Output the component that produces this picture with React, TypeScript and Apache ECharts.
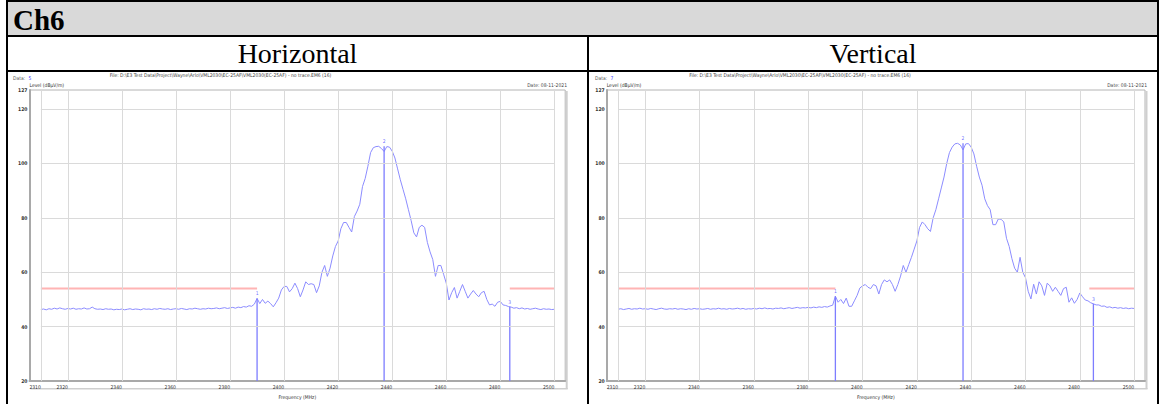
import React, { useEffect, useRef } from "react";
import * as echarts from "echarts";

// ---- Table texts ----
const CHANNEL = "Ch6";
const POLARIZATIONS = ["Horizontal", "Vertical"];
const DATA_IDS = ["5", "7"];
const FILE_LABEL =
  "File: D:\\E3 Test Data\\Project\\Wayne\\Arlo\\VML2030\\EC-25AF\\VML2030(EC-25AF) - no trace.EM6 (16)";
const DATE_LABEL = "Date: 08-11-2021";
const Y_NAME = "Level (dBµV/m)";
const X_NAME = "Frequency (MHz)";

// ---- Sweep: 2310 MHz start, 1 MHz step ----
const FREQ_START = 2310;
const FREQ_STEP = 1;

// Horizontal polarization, level in dBµV/m
const levelsH = [
  46.3, 46.5, 46.2, 46.6, 46.4, 46.8, 46.5, 46.9, 46.6, 46.4,
  46.7, 46.5, 46.8, 46.4, 46.6, 46.5, 46.9, 46.5, 46.6, 47.2,
  46.6, 46.4, 46.5, 46.3, 46.6, 46.4, 46.5, 46.2, 46.4, 46.3,
  46.5, 46.2, 46.4, 46.6, 46.3, 46.5, 46.4, 46.2, 46.6, 46.4,
  46.5, 46.3, 46.6, 46.4, 46.7, 46.5, 46.4, 46.6, 46.3, 46.5,
  46.6, 46.4, 46.7, 46.5, 46.3, 46.6, 46.5, 46.8, 46.6, 46.4,
  46.6, 46.5, 46.8, 46.6, 46.7, 46.9, 46.6, 46.8, 47.0, 46.7,
  46.9, 47.1, 46.8, 47.2, 47.0, 47.4, 47.2, 47.7, 47.5, 48.3,
  50.4, 48.5, 50.0, 48.6, 49.4, 48.5, 47.3, 48.8, 50.5, 53.5,
  54.8, 54.8, 52.8, 54.0, 56.0, 54.0, 51.0, 53.5, 56.5, 55.5,
  55.8, 55.5, 52.5, 55.0, 60.0, 62.5, 58.5, 61.5, 66.0, 69.5,
  71.5, 76.0, 78.3, 78.3, 76.5, 74.8, 80.5, 82.5, 85.0, 91.5,
  94.5, 99.0, 104.0, 105.8, 106.2, 106.3, 105.5, 104.4, 106.2, 106.0,
  104.5, 102.0, 98.0, 94.0, 90.5, 87.0, 83.0, 79.0, 74.5, 73.0,
  76.5, 77.3, 76.5, 71.0, 67.5, 64.7, 58.5, 62.5, 62.5, 59.3,
  56.0, 49.8, 52.5, 54.4, 50.5, 53.0, 55.5, 53.0, 50.5, 52.0,
  53.3, 52.0, 51.0, 52.5, 53.0, 50.0, 48.0, 48.3, 47.5, 49.0,
  49.3, 48.0, 47.8, 47.4, 47.2, 46.8, 47.0, 46.6, 46.9, 46.5,
  46.7, 46.4, 46.6, 46.8, 46.5, 46.3, 46.6, 46.4, 46.5, 46.3, 46.4,
];

// Vertical polarization, level in dBµV/m
const levelsV = [
  46.4, 46.6, 46.3, 46.5, 46.7, 46.4, 46.6, 46.5, 46.8, 46.5,
  46.6, 46.4, 46.7, 46.5, 46.3, 46.6, 46.8, 46.5, 46.4, 46.6,
  46.5, 46.7, 46.4, 46.6, 46.5, 46.3, 46.6, 46.4, 46.7, 46.5,
  46.6, 46.4, 46.5, 46.7, 46.4, 46.6, 46.5, 46.8, 46.5, 46.6,
  46.4, 46.7, 46.5, 46.6, 46.8, 46.5, 46.7, 46.4, 46.6, 46.5,
  46.7, 46.5, 46.8, 46.6, 46.9, 46.6, 46.7, 46.5, 46.8, 46.7,
  46.9, 46.6, 46.8, 47.0, 46.7, 46.9, 47.1, 46.8, 47.0, 46.9,
  47.1, 46.9, 47.2, 47.0, 47.3, 47.1, 47.4, 47.2, 47.6, 47.9,
  51.2, 49.0, 50.0, 48.5, 50.5, 47.5, 47.5, 49.5, 51.5, 54.2,
  55.0, 55.5, 54.5, 54.0, 55.5, 55.0, 52.0, 55.5, 57.2, 56.5,
  57.2, 55.5, 53.0, 55.5, 58.6, 62.5, 60.0, 62.8, 65.5, 68.5,
  71.5, 76.5, 78.5, 77.5, 76.0, 75.0, 80.0, 83.0, 87.0, 91.0,
  95.0, 100.0, 104.0, 106.0, 107.2, 107.4, 106.8, 105.0, 107.2, 107.3,
  106.0, 103.5, 99.0, 95.0, 92.0, 87.0, 84.5, 83.0, 77.5, 77.5,
  79.6, 79.5, 78.5, 72.5, 69.5, 65.0, 61.5, 60.0, 65.5, 60.0,
  58.0, 53.0, 50.2, 55.6, 52.0, 56.5, 55.0, 51.5, 56.0, 55.0,
  53.0, 54.5, 53.0, 51.5, 54.0, 54.5, 49.0, 50.6, 48.6, 50.0,
  52.4, 51.0, 49.8, 49.5, 48.8, 48.4, 48.0, 48.0, 47.5, 47.6,
  47.1, 47.3, 46.9, 47.1, 46.8, 47.0, 46.7, 46.9, 46.6, 46.8, 46.7,
];

// Markers: [frequency MHz, level dBµV/m]
const markersH = [
  [2390, 50.4],
  [2437, 106.3],
  [2483.5, 47.3],
];
const markersV = [
  [2390, 51.2],
  [2437, 107.4],
  [2485, 48.4],
];

// Restricted-band limit
const LIMIT_LEVEL = 54;
const limitBands = [
  [2310, 2390],
  [2483.5, 2500],
];

// Axes
const X_MIN = 2305.8;
const X_MAX = 2504;
const xTickValues = [2310, 2320, 2340, 2360, 2380, 2400, 2420, 2440, 2460, 2480, 2500];
const Y_MIN = 20;
const Y_MAX = 127;
const Y_INTERVAL = 20;
const yGridValues = [40, 60, 80, 100, 120];
const GRID_X_FROM = 2310;
const GRID_X_TO = 2500;

const TINY_FONT = "'Liberation Sans Narrow', 'DejaVu Sans Condensed', 'Liberation Sans', sans-serif";
const SERIF = "'Liberation Serif', 'Times New Roman', serif";

const PLOT_TOP = 90;
const PLOT_HEIGHT = 297;
const panels = [
  { left: 29.5, width: 535.7, dataX: 13, fileX: 220.5, dateRight: 567, levels: levelsH, markers: markersH, id: DATA_IDS[0] },
  { left: 606.7, width: 538.3, dataX: 595, fileX: 800, dateRight: 1147, levels: levelsV, markers: markersV, id: DATA_IDS[1] },
];

const TRACE_COLOR = "#8c8cff";
const MARKER_COLOR = "#7d7dff";
const LIMIT_COLOR = "#ffb4b4";
const GRID_COLOR = "#dadada";
const FRAME_COLOR = "#b4b4b4";

function buildOption() {
  const grid: any[] = [];
  const xAxis: any[] = [];
  const yAxis: any[] = [];
  const series: any[] = [];
  const graphic: any[] = [];

  panels.forEach((p, i) => {
    grid.push({
      left: p.left,
      top: PLOT_TOP,
      width: p.width,
      height: PLOT_HEIGHT,
      show: true,
      borderColor: FRAME_COLOR,
      borderWidth: 1,
      backgroundColor: "transparent",
    });
    xAxis.push({
      type: "value",
      gridIndex: i,
      min: X_MIN,
      max: X_MAX,
      axisLine: { show: true, onZero: false, lineStyle: { color: "#a9a9a9", width: 2 } },
      axisTick: { show: false },
      splitLine: { show: false },
      axisLabel: {
        customValues: xTickValues,
        fontSize: 5,
        fontFamily: TINY_FONT,
        color: "#333",
        align: "right",
        margin: 3,
        formatter: (v: number) => String(v),
      },
      name: X_NAME,
      nameLocation: "middle",
      nameGap: 12,
      nameTextStyle: { fontSize: 5, fontFamily: TINY_FONT, color: "#333" },
    });
    yAxis.push({
      type: "value",
      gridIndex: i,
      min: Y_MIN,
      max: Y_MAX,
      interval: Y_INTERVAL,
      axisLine: { show: true, lineStyle: { color: "#a9a9a9", width: 2 } },
      axisTick: { show: false },
      splitLine: { show: false },
      axisLabel: {
        fontSize: 5,
        fontFamily: TINY_FONT,
        fontWeight: "bold",
        color: "#333",
        margin: 2,
        showMaxLabel: true,
        showMinLabel: true,
      },
      name: Y_NAME,
      nameLocation: "end",
      nameGap: 1,
      nameTextStyle: { fontSize: 5, fontFamily: TINY_FONT, color: "#333", align: "left", verticalAlign: "bottom" },
    });

    // grid lines
    series.push({
      type: "line",
      xAxisIndex: i,
      yAxisIndex: i,
      data: [],
      silent: true,
      z: 1,
      markLine: {
        silent: true,
        symbol: ["none", "none"],
        label: { show: false },
        lineStyle: { color: GRID_COLOR, width: 1, type: "solid" },
        data: [
          ...xTickValues.map((v) => ({ xAxis: v })),
          ...yGridValues.map((v) => [{ coord: [GRID_X_FROM, v] }, { coord: [GRID_X_TO, v] }]),
        ],
      },
    });

    // limit line segments
    limitBands.forEach(([a, b]) => {
      series.push({
        type: "line",
        xAxisIndex: i,
        yAxisIndex: i,
        data: [
          [a, LIMIT_LEVEL],
          [b, LIMIT_LEVEL],
        ],
        symbol: "none",
        silent: true,
        z: 2,
        lineStyle: { color: LIMIT_COLOR, width: 2 },
      });
    });

    // measured trace
    series.push({
      type: "line",
      xAxisIndex: i,
      yAxisIndex: i,
      data: p.levels.map((v, k) => [FREQ_START + k * FREQ_STEP, v]),
      showSymbol: false,
      symbol: "none",
      silent: true,
      z: 3,
      lineStyle: { color: TRACE_COLOR, width: 1 },
    });

    // marker drop lines
    p.markers.forEach(([f, lv]) => {
      series.push({
        type: "line",
        xAxisIndex: i,
        yAxisIndex: i,
        data: [
          [f, lv],
          [f, Y_MIN],
        ],
        symbol: "none",
        silent: true,
        z: 4,
        lineStyle: { color: MARKER_COLOR, width: 1.3 },
      });
    });

    // marker numbers
    series.push({
      type: "scatter",
      xAxisIndex: i,
      yAxisIndex: i,
      silent: true,
      z: 5,
      symbol: "circle",
      symbolSize: 1,
      itemStyle: { color: "rgba(0,0,0,0)" },
      data: p.markers.map(([f, lv], k) => ({ value: [f, lv], name: String(k + 1) })),
      label: {
        show: true,
        position: "top",
        distance: 2,
        formatter: (d: any) => d.name,
        fontSize: 5,
        fontFamily: TINY_FONT,
        color: "#4a4aff",
      },
    });

    // light shadow along the right and bottom of the plot frame
    const r = p.left + p.width;
    const b = PLOT_TOP + PLOT_HEIGHT;
    graphic.push(
      {
        type: "rect",
        shape: { x: r + 0.5, y: PLOT_TOP + 1, width: 2, height: PLOT_HEIGHT + 1 },
        style: { fill: "#cfcfcf" },
        silent: true,
      },
      {
        type: "rect",
        shape: { x: p.left + 1, y: b + 1, width: p.width + 1.5, height: 1.5 },
        style: { fill: "#cfcfcf" },
        silent: true,
      }
    );

    // header texts of each plot
    graphic.push(
      {
        type: "text",
        left: p.dataX,
        top: 72,
        style: {
          text: "{a|Data:} {b|" + p.id + "}",
          rich: {
            a: { fill: "#555", fontSize: 5, fontFamily: TINY_FONT },
            b: { fill: "#3535ff", fontSize: 5, fontFamily: TINY_FONT },
          },
        },
      },
      {
        type: "text",
        x: p.fileX,
        y: 75,
        style: {
          text: FILE_LABEL,
          fontSize: 5,
          fontFamily: TINY_FONT,
          fill: "#444",
          align: "center",
          verticalAlign: "middle",
        },
      },
      {
        type: "text",
        x: p.dateRight,
        y: 85,
        style: {
          text: DATE_LABEL,
          fontSize: 5,
          fontFamily: TINY_FONT,
          fill: "#444",
          align: "right",
          verticalAlign: "middle",
        },
      }
    );
  });

  return {
    animation: false,
    backgroundColor: "transparent",
    textStyle: { fontFamily: TINY_FONT },
    grid,
    xAxis,
    yAxis,
    series,
    graphic,
  };
}

export default function App() {
  const ref = useRef<HTMLDivElement>(null);

  useEffect(() => {
    if (!ref.current) return;
    const chart = echarts.init(ref.current, null, { renderer: "svg" });
    chart.setOption(buildOption() as any);
    return () => chart.dispose();
  }, []);

  const black = "#000";
  return (
    <div
      style={{
        position: "absolute",
        left: 0,
        top: 0,
        width: 1161,
        height: 404,
        background: "#fff",
        overflow: "hidden",
      }}
    >
      {/* table frame */}
      <div
        style={{
          position: "absolute",
          left: 6,
          top: 0,
          width: 1153,
          height: 420,
          border: `2px solid ${black}`,
          boxSizing: "border-box",
        }}
      />
      <div style={{ position: "absolute", left: 8, top: 2, width: 1149, height: 33, background: "#d9d9d9" }} />
      <div style={{ position: "absolute", left: 6, top: 35, width: 1153, height: 2, background: black }} />
      <div style={{ position: "absolute", left: 6, top: 70, width: 1153, height: 2, background: black }} />
      <div style={{ position: "absolute", left: 587, top: 37, width: 2, height: 380, background: black }} />
      <div
        style={{
          position: "absolute",
          left: 13,
          top: 6,
          fontFamily: SERIF,
          fontWeight: "bold",
          fontSize: 29,
          lineHeight: "29px",
          color: "#000",
          whiteSpace: "nowrap",
        }}
      >
        {CHANNEL}
      </div>
      <div
        style={{
          position: "absolute",
          left: 8,
          width: 579,
          top: 40,
          textAlign: "center",
          fontFamily: SERIF,
          fontSize: 28,
          lineHeight: "28px",
          color: "#000",
        }}
      >
        {POLARIZATIONS[0]}
      </div>
      <div
        style={{
          position: "absolute",
          left: 589,
          width: 568,
          top: 40,
          textAlign: "center",
          fontFamily: SERIF,
          fontSize: 28,
          lineHeight: "28px",
          color: "#000",
        }}
      >
        {POLARIZATIONS[1]}
      </div>
      <div ref={ref} style={{ position: "absolute", left: 0, top: 0, width: 1161, height: 404 }} />
    </div>
  );
}
